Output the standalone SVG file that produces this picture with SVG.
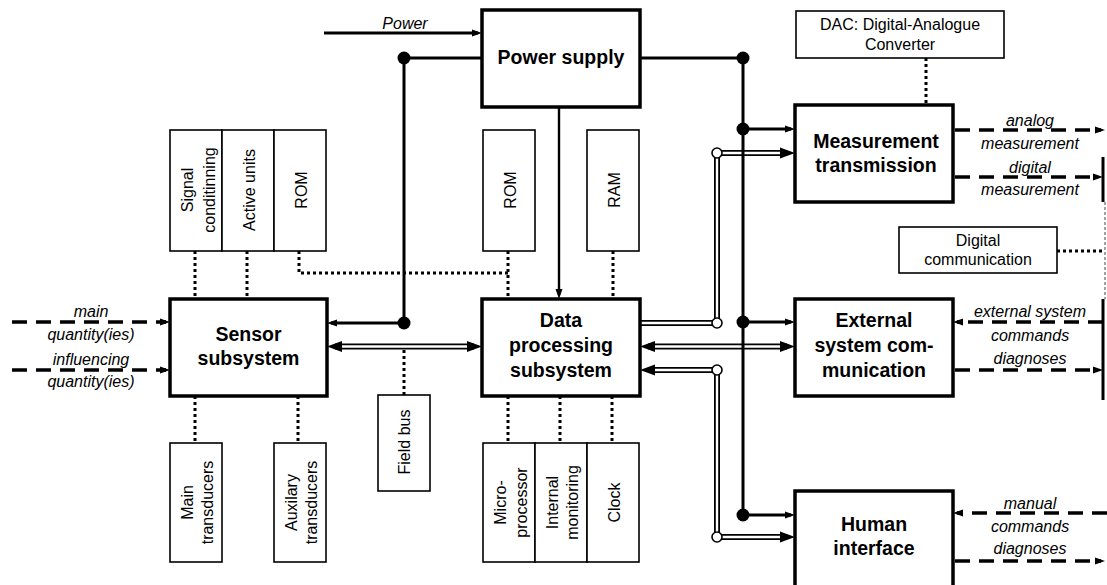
<svg xmlns="http://www.w3.org/2000/svg" width="1107" height="585" viewBox="0 0 1107 585">
<defs>
<style>
.box{fill:#fff;stroke:#000;stroke-width:3.5}
.sbox{fill:#fff;stroke:#000;stroke-width:1.6}
.bt{font-family:"Liberation Sans",Arial,sans-serif;font-weight:bold;font-size:19.5px;text-anchor:middle;fill:#000}
.t{font-family:"Liberation Sans",Arial,sans-serif;font-size:16px;text-anchor:middle;fill:#000}
.it{font-family:"Liberation Sans",Arial,sans-serif;font-style:italic;font-size:16px;text-anchor:middle;fill:#000}
.ln{fill:none;stroke:#000;stroke-width:3}
.thin{fill:none;stroke:#000;stroke-width:2.4}
.dash{fill:none;stroke:#000;stroke-width:3.5;stroke-dasharray:15 9}
.dot{fill:none;stroke:#000;stroke-width:3;stroke-dasharray:3 3}
.hair{fill:none;stroke:#444;stroke-width:1;stroke-dasharray:3 2}
.dbl{fill:none;stroke:#000;stroke-width:6;stroke-linejoin:miter}
.dblw{fill:none;stroke:#fff;stroke-width:2.4;stroke-linejoin:miter}
.jd{fill:#000}
.oc{fill:#fff;stroke:#000;stroke-width:1.6}
</style>
<marker id="a" markerUnits="userSpaceOnUse" markerWidth="11" markerHeight="8" refX="6" refY="3.5" orient="auto-start-reverse" overflow="visible"><path d="M0,0 L10,3.5 L0,7 z" fill="#000"/></marker>
<marker id="d" markerUnits="userSpaceOnUse" markerWidth="16" markerHeight="12" refX="7" refY="5.5" orient="auto-start-reverse" overflow="visible"><path d="M0,0 L15,5.5 L0,11 z" fill="#000"/></marker>
</defs>
<rect width="1107" height="585" fill="#fff"/>

<g id="connectors">
  <!-- power lines -->
  <path class="ln" d="M324,33 L478,33" marker-end="url(#a)"/>
  <path class="ln" d="M482,58 L404,58 L404,323 L331,323" marker-end="url(#a)"/>
  <path class="thin" d="M559,107 L559,295" marker-end="url(#a)"/>
  <!-- dotted links -->
  <path class="dot" d="M195,251 L195,299"/>
  <path class="dot" d="M247,251 L247,299"/>
  <path class="dot" d="M299,251 L299,273 L508,273"/>
  <path class="dot" d="M508,251 L508,299"/>
  <path class="dot" d="M613,251 L613,299"/>
  <path class="dot" d="M195,396 L195,443"/>
  <path class="dot" d="M298,396 L298,443"/>
  <path class="dot" d="M404,350 L404,395"/>
  <path class="dot" d="M508,396 L508,443"/>
  <path class="dot" d="M560,396 L560,443"/>
  <path class="dot" d="M612,396 L612,443"/>
  <path class="dot" d="M926,58 L926,105"/>
  <path class="dot" d="M1057,251 L1104,251"/>
  <!-- double-line buses -->
  <path class="dbl" d="M335,346.5 L474,346.5" marker-start="url(#d)" marker-end="url(#d)"/>
  <path class="dblw" d="M342,346.5 L467,346.5"/>
  <path class="dbl" d="M641,323 L717,323 L717,153 L787,153" marker-end="url(#d)"/>
  <path class="dblw" d="M641,323 L717,323 L717,153 L780,153"/>
  <path class="dbl" d="M648,346.5 L787,346.5" marker-start="url(#d)" marker-end="url(#d)"/>
  <path class="dblw" d="M655,346.5 L780,346.5"/>
  <path class="dbl" d="M648,370 L717,370 L717,537 L787,537" marker-start="url(#d)" marker-end="url(#d)"/>
  <path class="dblw" d="M655,370 L717,370 L717,537 L780,537"/>
  <!-- power distribution right -->
  <path class="ln" d="M640,58 L743,58 L743,515"/>
  <path class="ln" d="M743,129 L791,129" marker-end="url(#a)"/>
  <path class="ln" d="M743,322 L791,322" marker-end="url(#a)"/>
  <path class="ln" d="M743,515 L791,515" marker-end="url(#a)"/>
  <!-- junction dots -->
  <circle class="jd" cx="404" cy="58" r="6.5"/>
  <circle class="jd" cx="404" cy="323" r="6.5"/>
  <circle class="jd" cx="743" cy="58" r="6.5"/>
  <circle class="jd" cx="743" cy="129" r="6.5"/>
  <circle class="jd" cx="743" cy="322" r="6.5"/>
  <circle class="jd" cx="743" cy="515" r="6.5"/>
  <circle class="oc" cx="717" cy="153" r="5"/>
  <circle class="oc" cx="717" cy="323" r="5"/>
  <circle class="oc" cx="717" cy="370" r="5"/>
  <circle class="oc" cx="717" cy="537" r="5"/>
  <!-- dashed external signals -->
  <path class="dash" d="M12,322 L166,322" marker-end="url(#a)"/>
  <path class="dash" d="M12,370 L166,370" marker-end="url(#a)"/>
  <path class="dash" d="M955,130 L1101,130" marker-end="url(#a)"/>
  <path class="dash" d="M955,177 L1099,177" marker-end="url(#a)"/>
  <path class="dash" d="M1103,322 L957,322" marker-end="url(#a)"/>
  <path class="dash" d="M955,370 L1099,370" marker-end="url(#a)"/>
  <path class="dash" d="M1107,513 L957,513" marker-end="url(#a)"/>
  <path class="dash" d="M955,561 L1101,561" marker-end="url(#a)"/>
  <!-- bus bars right -->
  <path class="ln" d="M1103,157 L1103,202"/>
  <path class="ln" d="M1103,299 L1103,400"/>
  <path class="hair" d="M1105,202 L1105,299"/>
  <!-- italic labels -->
  <text class="it" x="405" y="29">Power</text>
  <text class="it" x="91" y="317">main</text>
  <text class="it" x="91" y="340">quantity(ies)</text>
  <text class="it" x="91" y="365">influencing</text>
  <text class="it" x="91" y="387">quantity(ies)</text>
  <text class="it" x="1030" y="126">analog</text>
  <text class="it" x="1030" y="149">measurement</text>
  <text class="it" x="1030" y="173">digital</text>
  <text class="it" x="1030" y="195">measurement</text>
  <text class="it" x="1030" y="317">external system</text>
  <text class="it" x="1030" y="341">commands</text>
  <text class="it" x="1030" y="364">diagnoses</text>
  <text class="it" x="1030" y="509">manual</text>
  <text class="it" x="1030" y="532">commands</text>
  <text class="it" x="1030" y="554">diagnoses</text>
</g>

<g id="power-supply">
  <rect class="box" x="482" y="10" width="158" height="97"/>
  <text class="bt" x="561" y="64">Power supply</text>
</g>
<g id="sensor-subsystem">
  <rect class="box" x="170" y="299" width="157" height="97"/>
  <text class="bt" x="248.5" y="341">Sensor</text>
  <text class="bt" x="248.5" y="365">subsystem</text>
</g>
<g id="data-processing">
  <rect class="box" x="482" y="299" width="158" height="97"/>
  <text class="bt" x="561" y="327">Data</text>
  <text class="bt" x="561" y="352">processing</text>
  <text class="bt" x="561" y="377">subsystem</text>
</g>
<g id="measurement-transmission">
  <rect class="box" x="795" y="105" width="158" height="97"/>
  <text class="bt" x="876" y="148">Measurement</text>
  <text class="bt" x="876" y="172">transmission</text>
</g>
<g id="external-communication">
  <rect class="box" x="795" y="299" width="158" height="97"/>
  <text class="bt" x="874" y="327">External</text>
  <text class="bt" x="874" y="352">system com-</text>
  <text class="bt" x="874" y="377">munication</text>
</g>
<g id="human-interface">
  <rect class="box" x="795" y="491" width="158" height="100"/>
  <text class="bt" x="874" y="531">Human</text>
  <text class="bt" x="874" y="555">interface</text>
</g>
<g id="dac">
  <rect class="sbox" x="796" y="11" width="208" height="47"/>
  <text class="t" x="900" y="30">DAC: Digital-Analogue</text>
  <text class="t" x="900" y="50">Converter</text>
</g>
<g id="digital-communication">
  <rect class="sbox" x="899" y="227" width="158" height="46"/>
  <text class="t" x="978" y="246">Digital</text>
  <text class="t" x="978" y="265">communication</text>
</g>
<g id="signal-conditioning">
  <rect class="sbox" x="170" y="130" width="52" height="121"/>
  <text class="t" transform="rotate(-90)" x="-190" y="193">Signal</text>
  <text class="t" transform="rotate(-90)" x="-190" y="215">conditinning</text>
</g>
<g id="active-units">
  <rect class="sbox" x="222" y="130" width="52" height="121"/>
  <text class="t" transform="rotate(-90)" x="-190" y="255">Active units</text>
</g>
<g id="rom-sensor">
  <rect class="sbox" x="274" y="130" width="52" height="121"/>
  <text class="t" transform="rotate(-90)" x="-190" y="306.5">ROM</text>
</g>
<g id="rom-data">
  <rect class="sbox" x="483" y="130" width="52" height="121"/>
  <text class="t" transform="rotate(-90)" x="-190" y="516">ROM</text>
</g>
<g id="ram">
  <rect class="sbox" x="587" y="130" width="52" height="121"/>
  <text class="t" transform="rotate(-90)" x="-190" y="620">RAM</text>
</g>
<g id="main-transducers">
  <rect class="sbox" x="170" y="443" width="52" height="119"/>
  <text class="t" transform="rotate(-90)" x="-502.5" y="193">Main</text>
  <text class="t" transform="rotate(-90)" x="-502.5" y="213">transducers</text>
</g>
<g id="auxilary-transducers">
  <rect class="sbox" x="274" y="443" width="52" height="119"/>
  <text class="t" transform="rotate(-90)" x="-502.5" y="297">Auxilary</text>
  <text class="t" transform="rotate(-90)" x="-502.5" y="317">transducers</text>
</g>
<g id="field-bus">
  <rect class="sbox" x="378" y="395" width="52" height="96"/>
  <text class="t" transform="rotate(-90)" x="-442" y="410">Field bus</text>
</g>
<g id="microprocessor">
  <rect class="sbox" x="483" y="443" width="52" height="119"/>
  <text class="t" transform="rotate(-90)" x="-502.5" y="506">Micro-</text>
  <text class="t" transform="rotate(-90)" x="-502.5" y="527">processor</text>
</g>
<g id="internal-monitoring">
  <rect class="sbox" x="535" y="443" width="52" height="119"/>
  <text class="t" transform="rotate(-90)" x="-502.5" y="558">Internal</text>
  <text class="t" transform="rotate(-90)" x="-502.5" y="578">monitoring</text>
</g>
<g id="clock">
  <rect class="sbox" x="587" y="443" width="52" height="119"/>
  <text class="t" transform="rotate(-90)" x="-502.5" y="620">Clock</text>
</g>
</svg>
